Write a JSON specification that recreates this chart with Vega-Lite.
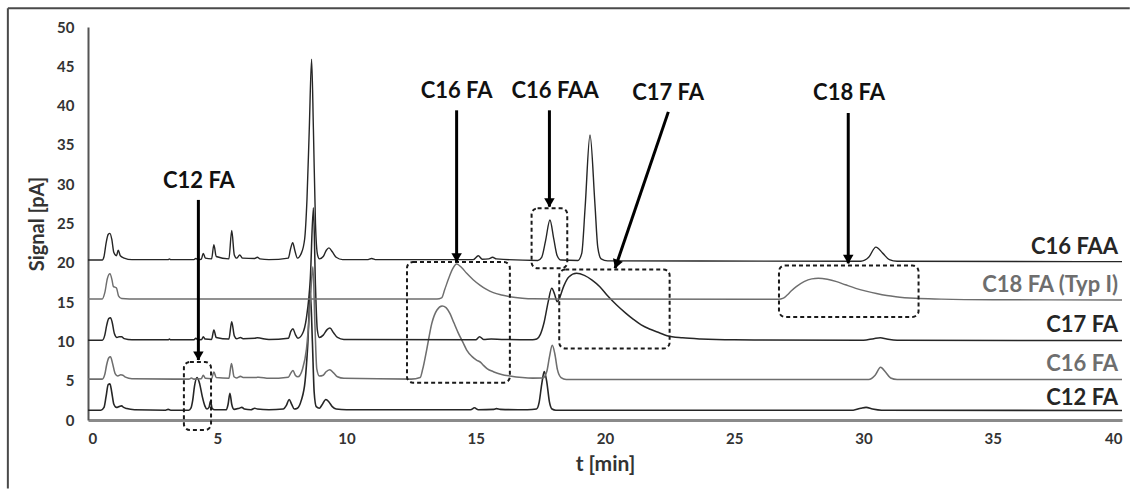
{
  "$schema": "https://vega.github.io/schema/vega-lite/v6.json",
  "width": 1034,
  "height": 393,
  "autosize": {"type": "none"},
  "padding": {"left": 88, "top": 27, "right": 9, "bottom": 69},
  "background": "white",
  "config": {
    "view": {"stroke": null},
    "font": "Lato",
    "axis": {"labelFont": "Lato", "titleFont": "Lato", "labelFontWeight": "bold", "titleFontWeight": "bold", "labelColor": "#333333", "titleColor": "#333333", "grid": false, "ticks": false, "labelOverlap": false}
  },
  "datasets": {
    "frame": [{"t1": -3.1, "t2": 40.3, "v1": 52.4, "v2": -8.7}],
    "traces": [
      {"s": "C12 FA", "t": 0, "v": 1.25}, {"s": "C12 FA", "t": 0.5, "v": 1.25}, {"s": "C12 FA", "t": 0.62, "v": 1.6}, {"s": "C12 FA", "t": 0.7, "v": 3.0}, {"s": "C12 FA", "t": 0.78, "v": 4.5}, {"s": "C12 FA", "t": 0.85, "v": 4.6}, {"s": "C12 FA", "t": 0.92, "v": 3.5}, {"s": "C12 FA", "t": 1.0, "v": 2.0}, {"s": "C12 FA", "t": 1.1, "v": 1.6}, {"s": "C12 FA", "t": 1.2, "v": 1.7}, {"s": "C12 FA", "t": 1.3, "v": 1.8}, {"s": "C12 FA", "t": 1.38, "v": 1.6}, {"s": "C12 FA", "t": 1.5, "v": 1.45}, {"s": "C12 FA", "t": 1.8, "v": 1.3}, {"s": "C12 FA", "t": 3.0, "v": 1.25}, {"s": "C12 FA", "t": 3.1, "v": 1.35}, {"s": "C12 FA", "t": 3.2, "v": 1.25}, {"s": "C12 FA", "t": 3.9, "v": 1.25}, {"s": "C12 FA", "t": 3.98, "v": 1.5}, {"s": "C12 FA", "t": 4.05, "v": 2.5}, {"s": "C12 FA", "t": 4.12, "v": 4.3}, {"s": "C12 FA", "t": 4.22, "v": 5.4}, {"s": "C12 FA", "t": 4.32, "v": 4.6}, {"s": "C12 FA", "t": 4.42, "v": 3.0}, {"s": "C12 FA", "t": 4.52, "v": 1.8}, {"s": "C12 FA", "t": 4.6, "v": 1.4}, {"s": "C12 FA", "t": 4.68, "v": 1.6}, {"s": "C12 FA", "t": 4.74, "v": 2.4}, {"s": "C12 FA", "t": 4.8, "v": 1.5}, {"s": "C12 FA", "t": 4.9, "v": 1.3}, {"s": "C12 FA", "t": 5.35, "v": 1.3}, {"s": "C12 FA", "t": 5.42, "v": 2.0}, {"s": "C12 FA", "t": 5.49, "v": 3.4}, {"s": "C12 FA", "t": 5.56, "v": 2.0}, {"s": "C12 FA", "t": 5.65, "v": 1.35}, {"s": "C12 FA", "t": 5.85, "v": 1.5}, {"s": "C12 FA", "t": 5.95, "v": 1.6}, {"s": "C12 FA", "t": 6.05, "v": 1.4}, {"s": "C12 FA", "t": 6.3, "v": 1.3}, {"s": "C12 FA", "t": 6.45, "v": 1.5}, {"s": "C12 FA", "t": 6.55, "v": 1.4}, {"s": "C12 FA", "t": 7.0, "v": 1.3}, {"s": "C12 FA", "t": 7.55, "v": 1.4}, {"s": "C12 FA", "t": 7.68, "v": 1.9}, {"s": "C12 FA", "t": 7.78, "v": 2.6}, {"s": "C12 FA", "t": 7.88, "v": 2.0}, {"s": "C12 FA", "t": 7.98, "v": 1.4}, {"s": "C12 FA", "t": 8.1, "v": 1.5}, {"s": "C12 FA", "t": 8.25, "v": 2.5}, {"s": "C12 FA", "t": 8.4, "v": 5.0}, {"s": "C12 FA", "t": 8.5, "v": 9.5}, {"s": "C12 FA", "t": 8.6, "v": 16.3}, {"s": "C12 FA", "t": 8.68, "v": 10.0}, {"s": "C12 FA", "t": 8.75, "v": 3.5}, {"s": "C12 FA", "t": 8.83, "v": 1.7}, {"s": "C12 FA", "t": 8.95, "v": 1.5}, {"s": "C12 FA", "t": 9.05, "v": 1.9}, {"s": "C12 FA", "t": 9.2, "v": 2.6}, {"s": "C12 FA", "t": 9.32, "v": 2.3}, {"s": "C12 FA", "t": 9.45, "v": 1.7}, {"s": "C12 FA", "t": 9.6, "v": 1.4}, {"s": "C12 FA", "t": 10.0, "v": 1.3}, {"s": "C12 FA", "t": 14.8, "v": 1.3}, {"s": "C12 FA", "t": 14.95, "v": 1.55}, {"s": "C12 FA", "t": 15.1, "v": 1.3}, {"s": "C12 FA", "t": 15.7, "v": 1.35}, {"s": "C12 FA", "t": 15.8, "v": 1.45}, {"s": "C12 FA", "t": 15.95, "v": 1.35}, {"s": "C12 FA", "t": 17.0, "v": 1.3}, {"s": "C12 FA", "t": 17.35, "v": 1.4}, {"s": "C12 FA", "t": 17.45, "v": 2.2}, {"s": "C12 FA", "t": 17.55, "v": 4.5}, {"s": "C12 FA", "t": 17.65, "v": 6.15}, {"s": "C12 FA", "t": 17.75, "v": 4.8}, {"s": "C12 FA", "t": 17.85, "v": 2.3}, {"s": "C12 FA", "t": 17.95, "v": 1.4}, {"s": "C12 FA", "t": 18.1, "v": 1.25}, {"s": "C12 FA", "t": 29.6, "v": 1.25}, {"s": "C12 FA", "t": 29.9, "v": 1.5}, {"s": "C12 FA", "t": 30.1, "v": 1.6}, {"s": "C12 FA", "t": 30.35, "v": 1.4}, {"s": "C12 FA", "t": 30.7, "v": 1.25}, {"s": "C12 FA", "t": 40, "v": 1.2},

      {"s": "C16 FA", "t": 0, "v": 5.2}, {"s": "C16 FA", "t": 0.55, "v": 5.2}, {"s": "C16 FA", "t": 0.65, "v": 5.8}, {"s": "C16 FA", "t": 0.72, "v": 7.0}, {"s": "C16 FA", "t": 0.8, "v": 7.9}, {"s": "C16 FA", "t": 0.87, "v": 8.05}, {"s": "C16 FA", "t": 0.95, "v": 7.2}, {"s": "C16 FA", "t": 1.05, "v": 5.9}, {"s": "C16 FA", "t": 1.15, "v": 5.6}, {"s": "C16 FA", "t": 1.27, "v": 5.75}, {"s": "C16 FA", "t": 1.35, "v": 5.7}, {"s": "C16 FA", "t": 1.45, "v": 5.45}, {"s": "C16 FA", "t": 1.7, "v": 5.25}, {"s": "C16 FA", "t": 3.9, "v": 5.2}, {"s": "C16 FA", "t": 4.0, "v": 5.35}, {"s": "C16 FA", "t": 4.1, "v": 5.2}, {"s": "C16 FA", "t": 4.38, "v": 5.25}, {"s": "C16 FA", "t": 4.46, "v": 5.7}, {"s": "C16 FA", "t": 4.54, "v": 5.3}, {"s": "C16 FA", "t": 4.78, "v": 5.25}, {"s": "C16 FA", "t": 4.87, "v": 6.1}, {"s": "C16 FA", "t": 4.96, "v": 5.4}, {"s": "C16 FA", "t": 5.45, "v": 5.3}, {"s": "C16 FA", "t": 5.55, "v": 7.2}, {"s": "C16 FA", "t": 5.65, "v": 5.5}, {"s": "C16 FA", "t": 5.75, "v": 5.35}, {"s": "C16 FA", "t": 5.9, "v": 5.55}, {"s": "C16 FA", "t": 6.0, "v": 5.4}, {"s": "C16 FA", "t": 6.5, "v": 5.4}, {"s": "C16 FA", "t": 6.6, "v": 5.45}, {"s": "C16 FA", "t": 7.0, "v": 5.3}, {"s": "C16 FA", "t": 7.75, "v": 5.45}, {"s": "C16 FA", "t": 7.85, "v": 6.0}, {"s": "C16 FA", "t": 7.93, "v": 6.3}, {"s": "C16 FA", "t": 8.02, "v": 5.7}, {"s": "C16 FA", "t": 8.12, "v": 5.5}, {"s": "C16 FA", "t": 8.3, "v": 6.5}, {"s": "C16 FA", "t": 8.45, "v": 9.0}, {"s": "C16 FA", "t": 8.58, "v": 14.0}, {"s": "C16 FA", "t": 8.7, "v": 19.5}, {"s": "C16 FA", "t": 8.78, "v": 12.0}, {"s": "C16 FA", "t": 8.85, "v": 6.5}, {"s": "C16 FA", "t": 8.95, "v": 5.6}, {"s": "C16 FA", "t": 9.1, "v": 5.7}, {"s": "C16 FA", "t": 9.2, "v": 6.1}, {"s": "C16 FA", "t": 9.35, "v": 6.4}, {"s": "C16 FA", "t": 9.5, "v": 6.0}, {"s": "C16 FA", "t": 9.65, "v": 5.5}, {"s": "C16 FA", "t": 9.9, "v": 5.3}, {"s": "C16 FA", "t": 12.5, "v": 5.2}, {"s": "C16 FA", "t": 12.85, "v": 5.4}, {"s": "C16 FA", "t": 12.95, "v": 6.5}, {"s": "C16 FA", "t": 13.1, "v": 8.9}, {"s": "C16 FA", "t": 13.3, "v": 12.3}, {"s": "C16 FA", "t": 13.5, "v": 14.0}, {"s": "C16 FA", "t": 13.7, "v": 14.5}, {"s": "C16 FA", "t": 13.85, "v": 14.3}, {"s": "C16 FA", "t": 14.0, "v": 13.57}, {"s": "C16 FA", "t": 14.15, "v": 12.4}, {"s": "C16 FA", "t": 14.33, "v": 11.03}, {"s": "C16 FA", "t": 14.5, "v": 9.9}, {"s": "C16 FA", "t": 14.65, "v": 8.9}, {"s": "C16 FA", "t": 14.85, "v": 8.1}, {"s": "C16 FA", "t": 15.03, "v": 7.63}, {"s": "C16 FA", "t": 15.2, "v": 7.3}, {"s": "C16 FA", "t": 15.3, "v": 6.95}, {"s": "C16 FA", "t": 15.45, "v": 6.5}, {"s": "C16 FA", "t": 15.68, "v": 6.15}, {"s": "C16 FA", "t": 16.0, "v": 5.8}, {"s": "C16 FA", "t": 16.32, "v": 5.6}, {"s": "C16 FA", "t": 16.8, "v": 5.4}, {"s": "C16 FA", "t": 17.2, "v": 5.33}, {"s": "C16 FA", "t": 17.6, "v": 5.35}, {"s": "C16 FA", "t": 17.75, "v": 6.2}, {"s": "C16 FA", "t": 17.85, "v": 8.0}, {"s": "C16 FA", "t": 17.96, "v": 9.5}, {"s": "C16 FA", "t": 18.06, "v": 8.4}, {"s": "C16 FA", "t": 18.16, "v": 6.4}, {"s": "C16 FA", "t": 18.3, "v": 5.4}, {"s": "C16 FA", "t": 18.5, "v": 5.15}, {"s": "C16 FA", "t": 30.2, "v": 5.15}, {"s": "C16 FA", "t": 30.45, "v": 5.7}, {"s": "C16 FA", "t": 30.66, "v": 6.7}, {"s": "C16 FA", "t": 30.85, "v": 6.1}, {"s": "C16 FA", "t": 31.05, "v": 5.35}, {"s": "C16 FA", "t": 31.3, "v": 5.15}, {"s": "C16 FA", "t": 40, "v": 5.15},

      {"s": "C17 FA", "t": 0, "v": 10.15}, {"s": "C17 FA", "t": 0.55, "v": 10.15}, {"s": "C17 FA", "t": 0.65, "v": 10.8}, {"s": "C17 FA", "t": 0.72, "v": 12.0}, {"s": "C17 FA", "t": 0.8, "v": 12.9}, {"s": "C17 FA", "t": 0.87, "v": 13.0}, {"s": "C17 FA", "t": 0.93, "v": 12.5}, {"s": "C17 FA", "t": 1.02, "v": 11.0}, {"s": "C17 FA", "t": 1.12, "v": 10.5}, {"s": "C17 FA", "t": 1.2, "v": 10.6}, {"s": "C17 FA", "t": 1.3, "v": 10.6}, {"s": "C17 FA", "t": 1.4, "v": 10.35}, {"s": "C17 FA", "t": 1.7, "v": 10.2}, {"s": "C17 FA", "t": 3.1, "v": 10.2}, {"s": "C17 FA", "t": 3.15, "v": 10.3}, {"s": "C17 FA", "t": 3.2, "v": 10.2}, {"s": "C17 FA", "t": 4.1, "v": 10.2}, {"s": "C17 FA", "t": 4.17, "v": 10.4}, {"s": "C17 FA", "t": 4.25, "v": 10.2}, {"s": "C17 FA", "t": 4.4, "v": 10.25}, {"s": "C17 FA", "t": 4.46, "v": 10.6}, {"s": "C17 FA", "t": 4.53, "v": 10.3}, {"s": "C17 FA", "t": 4.78, "v": 10.25}, {"s": "C17 FA", "t": 4.87, "v": 11.45}, {"s": "C17 FA", "t": 4.96, "v": 10.5}, {"s": "C17 FA", "t": 5.45, "v": 10.3}, {"s": "C17 FA", "t": 5.56, "v": 12.5}, {"s": "C17 FA", "t": 5.66, "v": 10.7}, {"s": "C17 FA", "t": 5.75, "v": 10.35}, {"s": "C17 FA", "t": 5.9, "v": 10.5}, {"s": "C17 FA", "t": 6.0, "v": 10.35}, {"s": "C17 FA", "t": 6.45, "v": 10.4}, {"s": "C17 FA", "t": 6.55, "v": 10.45}, {"s": "C17 FA", "t": 7.0, "v": 10.25}, {"s": "C17 FA", "t": 7.75, "v": 10.4}, {"s": "C17 FA", "t": 7.85, "v": 11.3}, {"s": "C17 FA", "t": 7.93, "v": 11.6}, {"s": "C17 FA", "t": 8.02, "v": 10.9}, {"s": "C17 FA", "t": 8.12, "v": 10.4}, {"s": "C17 FA", "t": 8.3, "v": 11.0}, {"s": "C17 FA", "t": 8.45, "v": 13.0}, {"s": "C17 FA", "t": 8.6, "v": 18.0}, {"s": "C17 FA", "t": 8.72, "v": 27.0}, {"s": "C17 FA", "t": 8.8, "v": 17.0}, {"s": "C17 FA", "t": 8.87, "v": 11.5}, {"s": "C17 FA", "t": 8.95, "v": 10.5}, {"s": "C17 FA", "t": 9.1, "v": 10.8}, {"s": "C17 FA", "t": 9.25, "v": 11.5}, {"s": "C17 FA", "t": 9.36, "v": 11.7}, {"s": "C17 FA", "t": 9.5, "v": 11.1}, {"s": "C17 FA", "t": 9.65, "v": 10.5}, {"s": "C17 FA", "t": 9.9, "v": 10.25}, {"s": "C17 FA", "t": 15.0, "v": 10.2}, {"s": "C17 FA", "t": 15.15, "v": 10.6}, {"s": "C17 FA", "t": 15.3, "v": 10.25}, {"s": "C17 FA", "t": 15.6, "v": 10.3}, {"s": "C17 FA", "t": 16.0, "v": 10.25}, {"s": "C17 FA", "t": 17.2, "v": 10.2}, {"s": "C17 FA", "t": 17.36, "v": 10.3}, {"s": "C17 FA", "t": 17.5, "v": 10.9}, {"s": "C17 FA", "t": 17.65, "v": 12.5}, {"s": "C17 FA", "t": 17.8, "v": 15.0}, {"s": "C17 FA", "t": 17.94, "v": 16.75}, {"s": "C17 FA", "t": 18.05, "v": 16.0}, {"s": "C17 FA", "t": 18.15, "v": 15.05}, {"s": "C17 FA", "t": 18.25, "v": 15.6}, {"s": "C17 FA", "t": 18.4, "v": 17.0}, {"s": "C17 FA", "t": 18.6, "v": 18.2}, {"s": "C17 FA", "t": 18.9, "v": 18.66}, {"s": "C17 FA", "t": 19.2, "v": 18.4}, {"s": "C17 FA", "t": 19.5, "v": 17.8}, {"s": "C17 FA", "t": 19.8, "v": 16.96}, {"s": "C17 FA", "t": 20.1, "v": 15.8}, {"s": "C17 FA", "t": 20.45, "v": 14.63}, {"s": "C17 FA", "t": 20.8, "v": 13.6}, {"s": "C17 FA", "t": 21.1, "v": 12.8}, {"s": "C17 FA", "t": 21.4, "v": 12.1}, {"s": "C17 FA", "t": 21.75, "v": 11.54}, {"s": "C17 FA", "t": 22.1, "v": 11.1}, {"s": "C17 FA", "t": 22.4, "v": 10.73}, {"s": "C17 FA", "t": 23.0, "v": 10.45}, {"s": "C17 FA", "t": 23.7, "v": 10.3}, {"s": "C17 FA", "t": 25.0, "v": 10.2}, {"s": "C17 FA", "t": 30.0, "v": 10.15}, {"s": "C17 FA", "t": 30.4, "v": 10.35}, {"s": "C17 FA", "t": 30.65, "v": 10.45}, {"s": "C17 FA", "t": 30.9, "v": 10.3}, {"s": "C17 FA", "t": 31.3, "v": 10.15}, {"s": "C17 FA", "t": 40, "v": 10.1},

      {"s": "C18 FA (Typ I)", "t": 0, "v": 15.4}, {"s": "C18 FA (Typ I)", "t": 0.55, "v": 15.4}, {"s": "C18 FA (Typ I)", "t": 0.65, "v": 16.2}, {"s": "C18 FA (Typ I)", "t": 0.75, "v": 18.0}, {"s": "C18 FA (Typ I)", "t": 0.85, "v": 18.6}, {"s": "C18 FA (Typ I)", "t": 0.93, "v": 17.8}, {"s": "C18 FA (Typ I)", "t": 0.98, "v": 17.0}, {"s": "C18 FA (Typ I)", "t": 1.04, "v": 16.9}, {"s": "C18 FA (Typ I)", "t": 1.1, "v": 16.8}, {"s": "C18 FA (Typ I)", "t": 1.18, "v": 15.8}, {"s": "C18 FA (Typ I)", "t": 1.3, "v": 15.45}, {"s": "C18 FA (Typ I)", "t": 1.6, "v": 15.4}, {"s": "C18 FA (Typ I)", "t": 13.5, "v": 15.4}, {"s": "C18 FA (Typ I)", "t": 13.68, "v": 15.55}, {"s": "C18 FA (Typ I)", "t": 13.8, "v": 16.6}, {"s": "C18 FA (Typ I)", "t": 13.95, "v": 18.0}, {"s": "C18 FA (Typ I)", "t": 14.1, "v": 19.2}, {"s": "C18 FA (Typ I)", "t": 14.26, "v": 19.85}, {"s": "C18 FA (Typ I)", "t": 14.45, "v": 19.4}, {"s": "C18 FA (Typ I)", "t": 14.65, "v": 18.66}, {"s": "C18 FA (Typ I)", "t": 14.9, "v": 17.85}, {"s": "C18 FA (Typ I)", "t": 15.16, "v": 17.17}, {"s": "C18 FA (Typ I)", "t": 15.4, "v": 16.65}, {"s": "C18 FA (Typ I)", "t": 15.68, "v": 16.2}, {"s": "C18 FA (Typ I)", "t": 16.0, "v": 15.9}, {"s": "C18 FA (Typ I)", "t": 16.32, "v": 15.69}, {"s": "C18 FA (Typ I)", "t": 16.8, "v": 15.5}, {"s": "C18 FA (Typ I)", "t": 17.2, "v": 15.42}, {"s": "C18 FA (Typ I)", "t": 18.0, "v": 15.4}, {"s": "C18 FA (Typ I)", "t": 26.7, "v": 15.35}, {"s": "C18 FA (Typ I)", "t": 26.9, "v": 15.5}, {"s": "C18 FA (Typ I)", "t": 27.05, "v": 15.9}, {"s": "C18 FA (Typ I)", "t": 27.2, "v": 16.4}, {"s": "C18 FA (Typ I)", "t": 27.4, "v": 16.96}, {"s": "C18 FA (Typ I)", "t": 27.7, "v": 17.6}, {"s": "C18 FA (Typ I)", "t": 28.0, "v": 17.95}, {"s": "C18 FA (Typ I)", "t": 28.25, "v": 18.03}, {"s": "C18 FA (Typ I)", "t": 28.6, "v": 17.9}, {"s": "C18 FA (Typ I)", "t": 28.96, "v": 17.6}, {"s": "C18 FA (Typ I)", "t": 29.3, "v": 17.2}, {"s": "C18 FA (Typ I)", "t": 29.7, "v": 16.75}, {"s": "C18 FA (Typ I)", "t": 30.1, "v": 16.4}, {"s": "C18 FA (Typ I)", "t": 30.5, "v": 16.1}, {"s": "C18 FA (Typ I)", "t": 30.9, "v": 15.85}, {"s": "C18 FA (Typ I)", "t": 31.25, "v": 15.69}, {"s": "C18 FA (Typ I)", "t": 32.0, "v": 15.48}, {"s": "C18 FA (Typ I)", "t": 33.0, "v": 15.38}, {"s": "C18 FA (Typ I)", "t": 35.0, "v": 15.3}, {"s": "C18 FA (Typ I)", "t": 40, "v": 15.27},

      {"s": "C16 FAA", "t": 0, "v": 20.35}, {"s": "C16 FAA", "t": 0.55, "v": 20.35}, {"s": "C16 FAA", "t": 0.62, "v": 20.8}, {"s": "C16 FAA", "t": 0.7, "v": 22.5}, {"s": "C16 FAA", "t": 0.78, "v": 23.6}, {"s": "C16 FAA", "t": 0.85, "v": 23.75}, {"s": "C16 FAA", "t": 0.92, "v": 23.0}, {"s": "C16 FAA", "t": 1.0, "v": 21.3}, {"s": "C16 FAA", "t": 1.1, "v": 20.9}, {"s": "C16 FAA", "t": 1.17, "v": 21.6}, {"s": "C16 FAA", "t": 1.25, "v": 20.9}, {"s": "C16 FAA", "t": 1.4, "v": 20.6}, {"s": "C16 FAA", "t": 1.7, "v": 20.4}, {"s": "C16 FAA", "t": 3.1, "v": 20.4}, {"s": "C16 FAA", "t": 3.15, "v": 20.5}, {"s": "C16 FAA", "t": 3.2, "v": 20.4}, {"s": "C16 FAA", "t": 4.1, "v": 20.4}, {"s": "C16 FAA", "t": 4.17, "v": 20.55}, {"s": "C16 FAA", "t": 4.25, "v": 20.4}, {"s": "C16 FAA", "t": 4.38, "v": 20.45}, {"s": "C16 FAA", "t": 4.46, "v": 21.2}, {"s": "C16 FAA", "t": 4.54, "v": 20.6}, {"s": "C16 FAA", "t": 4.78, "v": 20.5}, {"s": "C16 FAA", "t": 4.87, "v": 22.3}, {"s": "C16 FAA", "t": 4.96, "v": 20.8}, {"s": "C16 FAA", "t": 5.45, "v": 20.5}, {"s": "C16 FAA", "t": 5.56, "v": 24.1}, {"s": "C16 FAA", "t": 5.66, "v": 21.0}, {"s": "C16 FAA", "t": 5.75, "v": 20.6}, {"s": "C16 FAA", "t": 5.87, "v": 21.0}, {"s": "C16 FAA", "t": 5.98, "v": 20.6}, {"s": "C16 FAA", "t": 6.45, "v": 20.55}, {"s": "C16 FAA", "t": 6.55, "v": 20.7}, {"s": "C16 FAA", "t": 6.65, "v": 20.5}, {"s": "C16 FAA", "t": 7.0, "v": 20.4}, {"s": "C16 FAA", "t": 7.75, "v": 20.6}, {"s": "C16 FAA", "t": 7.83, "v": 21.7}, {"s": "C16 FAA", "t": 7.92, "v": 22.56}, {"s": "C16 FAA", "t": 8.0, "v": 21.6}, {"s": "C16 FAA", "t": 8.1, "v": 20.6}, {"s": "C16 FAA", "t": 8.25, "v": 21.2}, {"s": "C16 FAA", "t": 8.38, "v": 23.0}, {"s": "C16 FAA", "t": 8.47, "v": 28.0}, {"s": "C16 FAA", "t": 8.56, "v": 37.0}, {"s": "C16 FAA", "t": 8.65, "v": 45.9}, {"s": "C16 FAA", "t": 8.72, "v": 37.0}, {"s": "C16 FAA", "t": 8.8, "v": 25.0}, {"s": "C16 FAA", "t": 8.88, "v": 21.0}, {"s": "C16 FAA", "t": 8.95, "v": 20.5}, {"s": "C16 FAA", "t": 9.1, "v": 20.8}, {"s": "C16 FAA", "t": 9.22, "v": 21.6}, {"s": "C16 FAA", "t": 9.32, "v": 21.9}, {"s": "C16 FAA", "t": 9.45, "v": 21.4}, {"s": "C16 FAA", "t": 9.6, "v": 20.7}, {"s": "C16 FAA", "t": 9.85, "v": 20.4}, {"s": "C16 FAA", "t": 10.8, "v": 20.4}, {"s": "C16 FAA", "t": 10.97, "v": 20.55}, {"s": "C16 FAA", "t": 11.15, "v": 20.4}, {"s": "C16 FAA", "t": 14.9, "v": 20.4}, {"s": "C16 FAA", "t": 15.1, "v": 20.9}, {"s": "C16 FAA", "t": 15.25, "v": 20.45}, {"s": "C16 FAA", "t": 15.5, "v": 20.5}, {"s": "C16 FAA", "t": 15.65, "v": 20.7}, {"s": "C16 FAA", "t": 15.8, "v": 20.5}, {"s": "C16 FAA", "t": 17.4, "v": 20.3}, {"s": "C16 FAA", "t": 17.55, "v": 20.7}, {"s": "C16 FAA", "t": 17.7, "v": 22.8}, {"s": "C16 FAA", "t": 17.87, "v": 25.45}, {"s": "C16 FAA", "t": 18.02, "v": 23.0}, {"s": "C16 FAA", "t": 18.15, "v": 20.9}, {"s": "C16 FAA", "t": 18.3, "v": 20.35}, {"s": "C16 FAA", "t": 18.95, "v": 20.3}, {"s": "C16 FAA", "t": 19.1, "v": 21.2}, {"s": "C16 FAA", "t": 19.23, "v": 27.0}, {"s": "C16 FAA", "t": 19.42, "v": 36.26}, {"s": "C16 FAA", "t": 19.61, "v": 27.5}, {"s": "C16 FAA", "t": 19.72, "v": 22.0}, {"s": "C16 FAA", "t": 19.85, "v": 20.5}, {"s": "C16 FAA", "t": 20.1, "v": 20.25}, {"s": "C16 FAA", "t": 29.9, "v": 20.2}, {"s": "C16 FAA", "t": 30.2, "v": 20.7}, {"s": "C16 FAA", "t": 30.48, "v": 22.0}, {"s": "C16 FAA", "t": 30.75, "v": 21.2}, {"s": "C16 FAA", "t": 31.0, "v": 20.4}, {"s": "C16 FAA", "t": 31.3, "v": 20.2}, {"s": "C16 FAA", "t": 40, "v": 20.15}
    ],
    "boxes": [
      {"t1": 3.71, "t2": 4.76, "v1": 7.38, "v2": -1.27},
      {"t1": 12.34, "t2": 16.32, "v1": 20.1, "v2": 4.75},
      {"t1": 17.16, "t2": 18.54, "v1": 26.93, "v2": 19.3},
      {"t1": 18.23, "t2": 22.5, "v1": 19.15, "v2": 9.1},
      {"t1": 26.73, "t2": 32.13, "v1": 19.65, "v2": 13.12}
    ],
    "arrows": [
      {"name": "C12 FA", "t": 4.27, "v": 28.0, "t2": 4.27, "v2": 7.63, "tilt": 0},
      {"name": "C16 FA", "t": 14.26, "v": 39.4, "t2": 14.26, "v2": 20.14, "tilt": 0},
      {"name": "C16 FAA", "t": 17.85, "v": 39.4, "t2": 17.85, "v2": 27.14, "tilt": 0},
      {"name": "C17 FA", "t": 22.45, "v": 39.2, "t2": 20.39, "v2": 19.3, "tilt": 19},
      {"name": "C18 FA", "t": 29.41, "v": 39.06, "t2": 29.41, "v2": 19.93, "tilt": 0}
    ],
    "notes": [
      {"label": "C12 FA", "t": 4.29, "v": 29.5},
      {"label": "C16 FA", "t": 14.26, "v": 40.97},
      {"label": "C16 FAA", "t": 18.07, "v": 40.97},
      {"label": "C17 FA", "t": 22.44, "v": 40.7},
      {"label": "C18 FA", "t": 29.44, "v": 40.7}
    ],
    "tags": [
      {"label": "C16 FAA", "v": 21.12, "tone": "dark"},
      {"label": "C18 FA (Typ I)", "v": 16.28, "tone": "grey"},
      {"label": "C17 FA", "v": 11.2, "tone": "dark"},
      {"label": "C16 FA", "v": 6.23, "tone": "grey"},
      {"label": "C12 FA", "v": 1.91, "tone": "dark"}
    ]
  },
  "encoding": {
    "x": {
      "type": "quantitative",
      "scale": {"domain": [0, 40], "nice": false},
      "axis": {"title": "t [min]", "values": [0, 5, 10, 15, 20, 25, 30, 35, 40], "labelFontSize": 15, "labelPadding": 11, "titleFontSize": 21, "titlePadding": 7, "domainColor": "#8a8a8a", "domainWidth": 3, "labelOverlap": false}
    },
    "y": {
      "type": "quantitative",
      "scale": {"domain": [0, 50], "nice": false},
      "axis": {"title": "Signal [pA]", "values": [0, 5, 10, 15, 20, 25, 30, 35, 40, 45, 50], "labelFontSize": 15, "labelPadding": 14, "titleFontSize": 20, "titlePadding": 9, "domainColor": "#555555", "domainWidth": 2, "labelOverlap": false, "labelBound": false}
    }
  },
  "layer": [
    {
      "data": {"name": "traces"},
      "mark": {"type": "line", "interpolate": "monotone", "clip": true},
      "encoding": {
        "x": {"field": "t"},
        "y": {"field": "v"},
        "detail": {"field": "s"},
        "color": {
          "field": "s", "type": "nominal", "legend": null,
          "scale": {"domain": ["C12 FA", "C16 FA", "C17 FA", "C18 FA (Typ I)", "C16 FAA"], "range": ["#262626", "#6e6e6e", "#262626", "#6e6e6e", "#262626"]}
        },
        "strokeWidth": {
          "field": "s", "type": "nominal", "legend": null,
          "scale": {"domain": ["C12 FA", "C16 FA", "C17 FA", "C18 FA (Typ I)", "C16 FAA"], "range": [1.6, 1.4, 1.6, 1.3, 1.6]}
        }
      }
    },
    {
      "data": {"name": "frame"},
      "mark": {"type": "rule", "stroke": "#4a4a4a", "strokeWidth": 2},
      "encoding": {
        "x": {"field": "t1"},
        "y": {"field": "v1"},
        "y2": {"field": "v2"}
      }
    },
    {
      "data": {"name": "frame"},
      "mark": {"type": "rule", "stroke": "#4a4a4a", "strokeWidth": 2},
      "encoding": {
        "x": {"field": "t1"},
        "x2": {"field": "t2"},
        "y": {"field": "v1"}
      }
    },
    {
      "data": {"name": "boxes"},
      "mark": {"type": "rect", "fill": null, "stroke": "#1a1a1a", "strokeWidth": 2, "strokeDash": [4, 3], "cornerRadius": 6},
      "encoding": {
        "x": {"field": "t1"},
        "x2": {"field": "t2"},
        "y": {"field": "v1"},
        "y2": {"field": "v2"}
      }
    },
    {
      "data": {"name": "arrows"},
      "mark": {"type": "rule", "stroke": "#000000", "strokeWidth": 3},
      "encoding": {
        "x": {"field": "t"},
        "y": {"field": "v"},
        "x2": {"field": "t2"},
        "y2": {"field": "v2"}
      }
    },
    {
      "data": {"name": "arrows"},
      "transform": [{"filter": "datum.tilt == 0"}],
      "mark": {"type": "point", "shape": "triangle-down", "filled": true, "color": "#000000", "size": 110, "opacity": 1, "yOffset": -4},
      "encoding": {
        "x": {"field": "t2"},
        "y": {"field": "v2"}
      }
    },
    {
      "data": {"name": "arrows"},
      "transform": [{"filter": "datum.tilt != 0"}],
      "mark": {"type": "point", "shape": "triangle-down", "filled": true, "color": "#000000", "size": 110, "opacity": 1, "angle": 19, "xOffset": 1.4, "yOffset": -4},
      "encoding": {
        "x": {"field": "t2"},
        "y": {"field": "v2"}
      }
    },
    {
      "data": {"name": "notes"},
      "mark": {"type": "text", "font": "Lato", "fontWeight": "bold", "fontSize": 22, "color": "#111111", "align": "center", "baseline": "alphabetic"},
      "encoding": {
        "x": {"field": "t"},
        "y": {"field": "v"},
        "text": {"field": "label"}
      }
    },
    {
      "data": {"name": "tags"},
      "mark": {"type": "text", "font": "Lato", "fontWeight": "bold", "fontSize": 22, "align": "right", "baseline": "alphabetic"},
      "encoding": {
        "x": {"datum": 39.85},
        "y": {"field": "v"},
        "text": {"field": "label"},
        "color": {"field": "tone", "type": "nominal", "legend": null, "scale": {"domain": ["dark", "grey"], "range": ["#111111", "#6e6e6e"]}}
      }
    }
  ]
}
